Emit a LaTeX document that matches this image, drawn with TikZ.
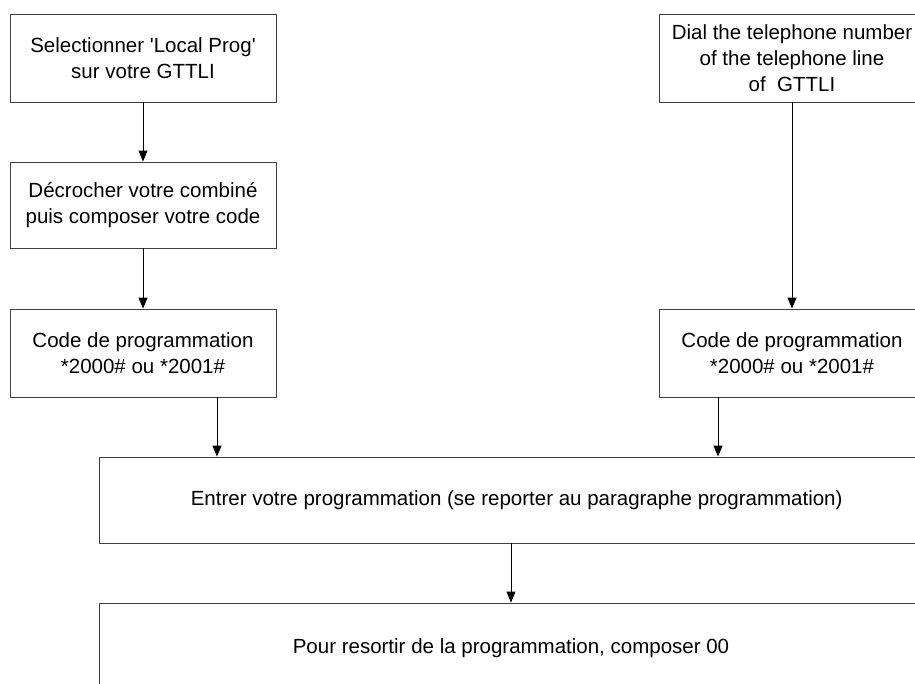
\documentclass[tikz,border=0pt]{standalone}
\usepackage{fontspec}
\setmainfont{Liberation Sans}
\usetikzlibrary{arrows.meta,calc}
\begin{document}
\begin{tikzpicture}[x=1pt,y=-1pt,
  box/.style={draw=black!75,line width=0.9pt,fill=white,align=center,
    inner sep=0pt,font=\fontsize{20.5}{26}\selectfont},
  arr/.style={draw=black,line width=0.9pt,-{Triangle[length=11pt,width=9pt]}}]
\useasboundingbox (0,0) rectangle (915,683);
\begin{scope}
\clip (0,0) rectangle (915,683);
\node[box,minimum width=266pt,minimum height=88pt] (A) at (143,58)
  {Selectionner \textquotesingle Local Prog\textquotesingle\\sur votre GTTLI};
\node[box,minimum width=266pt,minimum height=86pt] (B) at (143,205)
  {Décrocher votre combiné\\puis composer votre code};
\node[box,minimum width=266pt,minimum height=88pt] (C) at (143,353)
  {Code de programmation\\*2000\# ou *2001\#};
\node[box,minimum width=266pt,minimum height=88pt] (D) at (792,58)
  {Dial the telephone number\\of the telephone line\\of\ \ GTTLI};
\node[box,minimum width=266pt,minimum height=88pt] (G) at (792,353)
  {Code de programmation\\*2000\# ou *2001\#};
\node[box,minimum width=824pt,minimum height=86pt] (E) at (511,500)
  {\ \ Entrer votre programmation (se reporter au paragraphe programmation)};
\node[box,minimum width=824pt,minimum height=90pt] (F) at (511,648)
  {Pour resortir de la programmation, composer 00};
\draw[arr] (A) -- (B);
\draw[arr] (B) -- (C);
\draw[arr] (D) -- (G);
\draw[arr] ([xshift=74pt]C.south) -- ([xshift=74pt]C.south |- E.north);
\draw[arr] ([xshift=-74pt]G.south) -- ([xshift=-74pt]G.south |- E.north);
\draw[arr] (E) -- (F);
\end{scope}
\end{tikzpicture}
\end{document}
